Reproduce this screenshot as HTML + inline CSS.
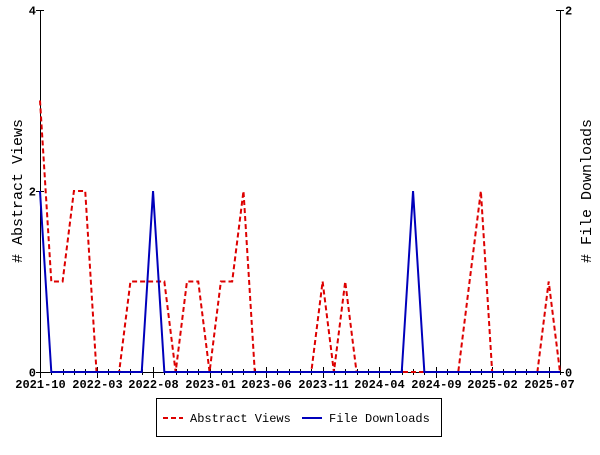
<!DOCTYPE html>
<html><head><meta charset="utf-8"><style>
html,body{margin:0;padding:0;background:#fff;}
svg text{font-family:"Liberation Mono","DejaVu Sans Mono",monospace;font-weight:bold;font-size:12px;fill:#000;}
</style></head><body>
<svg id="chart" width="600" height="450" xmlns="http://www.w3.org/2000/svg">
<g id="axes"></g><g id="series"></g>
<text transform="translate(22,191) rotate(-90)" text-anchor="middle" style="font-size:15px;font-weight:normal"># Abstract Views</text>
<text transform="translate(591,191) rotate(-90)" text-anchor="middle" style="font-size:15px;font-weight:normal"># File Downloads</text>
<g>
<rect x="156.5" y="398.5" width="285" height="38" fill="#fff" stroke="#000"/>
<line x1="163" y1="418" x2="183" y2="418" stroke="#d00" stroke-width="2" stroke-dasharray="5,3"/>
<text x="190" y="422" style="font-weight:normal">Abstract Views</text>
<line x1="302" y1="418" x2="322" y2="418" stroke="#00b" stroke-width="2"/>
<text x="329" y="422" style="font-weight:normal">File Downloads</text>
</g>
</svg>
<script>
const tickLabels=["2021-10","2022-03","2022-08","2023-01","2023-06","2023-11","2024-04","2024-09","2025-02","2025-07"];
const abstractViews=[3,1,1,2,2,0,0,0,1,1,1,1,0,1,1,0,1,1,2,0,0,0,0,0,0,1,0,1,0,0,0,0,0,0,0,0,0,0,1,2,0,0,0,0,0,1,0];
const fileDownloads=[1,0,0,0,0,0,0,0,0,0,1,0,0,0,0,0,0,0,0,0,0,0,0,0,0,0,0,0,0,0,0,0,0,1,0,0,0,0,0,0,0,0,0,0,0,0,0];
const leftTicks=[0,2,4];
const rightTicks=[0,2];
const NS="http://www.w3.org/2000/svg";
const X0=40,X1=560,Y0=372,Y1=10;
const n=abstractViews.length;
const xs=i=>X0+i*(X1-X0)/(n-1);
const yl=v=>Y0-v*(Y0-Y1)/4;
const yr=v=>Y0-v*(Y0-Y1)/2;
const axes=document.getElementById('axes'),series=document.getElementById('series');
function mk(tag,attrs,parent){const e=document.createElementNS(NS,tag);for(const k in attrs)e.setAttribute(k,attrs[k]);parent.appendChild(e);return e;}
let l=mk('path',{d:`M${X0+.5},${Y1} V${Y0+.5} H${X1+.5} V${Y1}`,fill:'none',stroke:'#000'},axes);


for(let i=0;i<n;i++){const x=Math.round(xs(i))+.5;const major=i%5===0;
const t=mk('line',{x1:x,x2:x,y1:major?Y0-5:Y0-3,y2:major?Y0+6:Y0+3,stroke:'#000'},axes);


if(major){const lb=mk('text',{x:x,y:Y0+16,'text-anchor':'middle'},axes);lb.textContent=tickLabels[i/5];

}}
leftTicks.forEach(v=>{const y=Math.round(yl(v))+.5;
const t=mk('line',{x1:X0-4,x2:X0+4,y1:y,y2:y,stroke:'#000'},axes);


const lb=mk('text',{x:X0-4,y:y+4,'text-anchor':'end'},axes);lb.textContent=v;

});
rightTicks.forEach(v=>{const y=Math.round(yr(v))+.5;
const t=mk('line',{x1:X1-4,x2:X1+4,y1:y,y2:y,stroke:'#000'},axes);


const lb=mk('text',{x:X1+5,y:y+4,'text-anchor':'start'},axes);lb.textContent=v;

});
const p1=mk('polyline',{points:abstractViews.map((v,i)=>xs(i)+','+yl(v)).join(' '),fill:'none',stroke:'#d00',"stroke-width":2,"stroke-dasharray":"5,3"},series);


const p2=mk('polyline',{points:fileDownloads.map((v,i)=>xs(i)+','+yr(v)).join(' '),fill:'none',stroke:'#00b',"stroke-width":2},series);


</script>
</body></html>
